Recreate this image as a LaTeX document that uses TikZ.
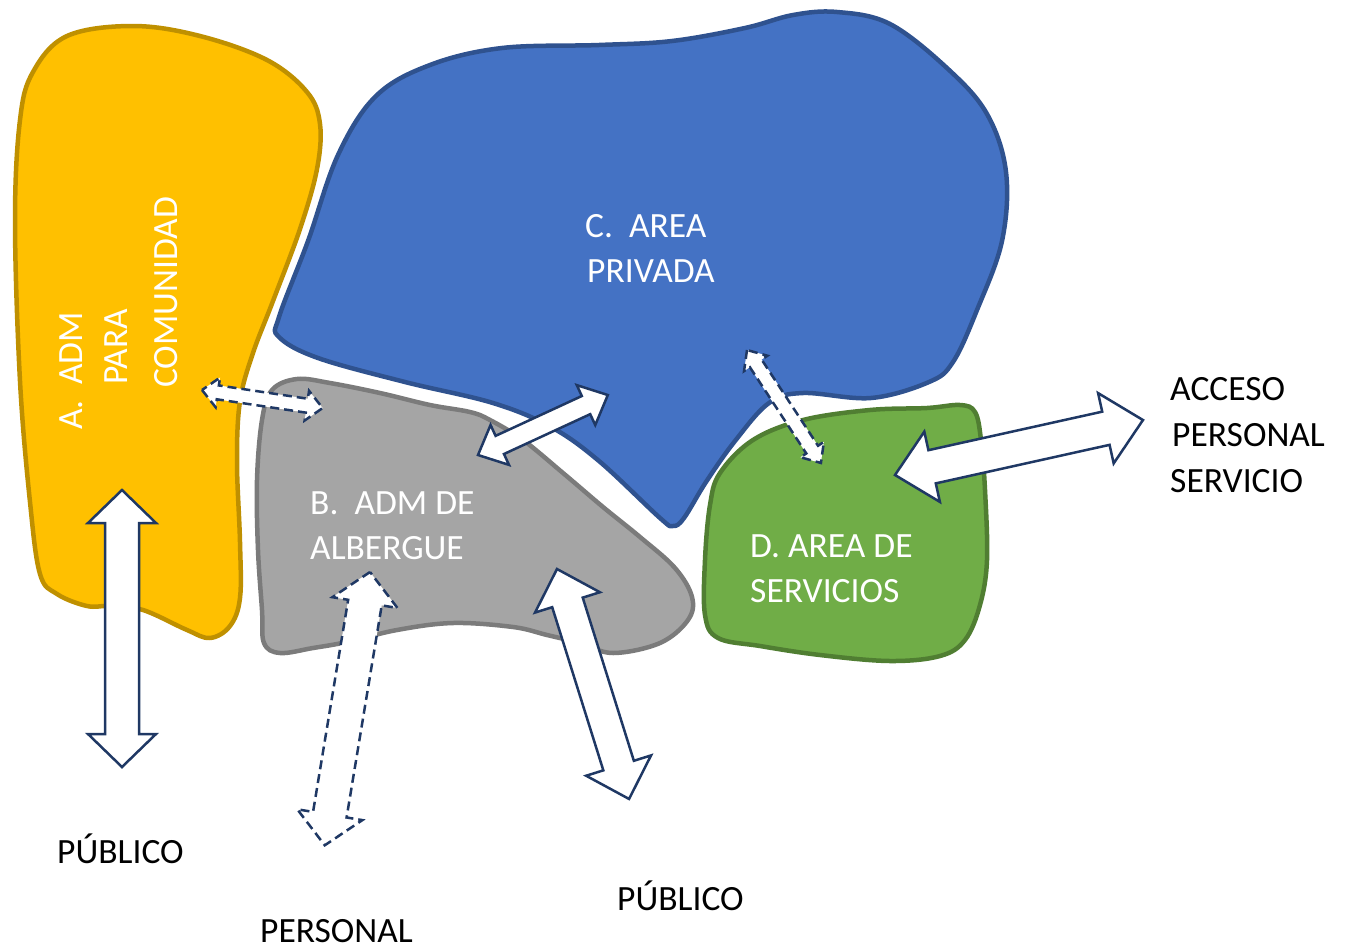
\documentclass[tikz,border=0pt]{standalone}
\usepackage{fontspec}
\setmainfont{Carlito}
\definecolor{yfill}{HTML}{FFC000}
\definecolor{ydraw}{HTML}{BF9000}
\definecolor{bfill}{HTML}{4472C4}
\definecolor{bdraw}{HTML}{2F528F}
\definecolor{gfill}{HTML}{A5A5A5}
\definecolor{gdraw}{HTML}{7B7B7B}
\definecolor{vfill}{HTML}{70AD47}
\definecolor{vdraw}{HTML}{507E32}
\definecolor{navy}{HTML}{1F3864}
\newcommand{\blockarr}[8]{%
  \begin{scope}[shift={(#1,#2)},rotate=#3]
    \draw[#8] (0,0) -- (#7,#6) -- (#7,#5) -- ({#4-#7},#5) -- ({#4-#7},#6) -- (#4,0)
      -- ({#4-#7},-#6) -- ({#4-#7},-#5) -- (#7,-#5) -- (#7,-#6) -- cycle;
  \end{scope}}
\begin{document}
\begin{tikzpicture}[x=1pt,y=-1pt,
  blob/.style={line width=4.5pt, line join=round},
  blobA/.style={blob, draw=ydraw, fill=yfill},
  blobB/.style={blob, draw=gdraw, fill=gfill},
  blobC/.style={blob, draw=bdraw, fill=bfill},
  blobD/.style={blob, draw=vdraw, fill=vfill},
  solidarr/.style={draw=navy, fill=white, line width=2.5pt, line join=miter},
  dasharr/.style={solidarr, dash pattern=on 9pt off 5pt},
  intxt/.style={text=white, font=\fontsize{35.5}{40}\selectfont, inner sep=0pt},
  outtxt/.style={text=black, font=\fontsize{35.5}{40}\selectfont, inner sep=0pt}]
\useasboundingbox (0,0) rectangle (1347,951);

% blobs
\draw[blobA] plot[smooth cycle, tension=0.6] coordinates {(133,26) (200,36) (267,60) (307,92) (320,124) (317,169) (300,229) (273,301) (253,353) (240,401) (237,462) (240,542) (240,598) (230,626) (210,638) (187,630) (143,610) (110,606) (87,606) (57,594) (40,574) (30,502) (20,381) (15,221) (20,120) (33,72) (67,36)};
\draw[blobC] plot[smooth cycle, tension=0.6] coordinates {(837,12) (890,24) (948,69) (987,114) (1006,172) (1002,241) (977,310) (953,362) (929,382) (871,398) (803,393) (769,403) (735,441) (706,482) (684,518) (673,526) (660,518) (599,461) (551,427) (493,403) (405,382) (318,358) (279,337) (279,317) (308,241) (338,155) (376,96) (430,65) (502,48) (599,45) (672,41) (745,28) (793,15)};
\draw[blobB] plot[smooth cycle, tension=0.6] coordinates {(297,379) (330,383) (380,393) (430,405) (470,412) (490,420) (523,440) (563,473) (603,507) (640,537) (675,568) (692,597) (688,620) (660,643) (613,653) (580,643) (547,635) (513,627) (453,623) (397,630) (347,642) (313,648) (280,653) (264,643) (262,610) (258,550) (257,480) (262,420) (272,390)};
\draw[blobD] plot[smooth cycle, tension=0.6] coordinates {(720,473) (753,440) (803,420) (870,410) (927,408) (960,405) (975,412) (981,440) (985,490) (987,560) (980,605) (965,640) (940,656) (890,661) (820,655) (760,646) (718,638) (705,615) (705,560) (710,505)};

% arrows
\blockarr{122}{490}{-90}{277}{17}{34}{33}{solidarr}
\blockarr{202}{390}{-8.5}{122}{7}{15}{16}{dasharr}
\blockarr{478}{455}{24.8}{143}{10}{22}{24}{solidarr}
\blockarr{747}{350}{-56.8}{135}{7}{14}{16}{dasharr}
\blockarr{895}{475}{12.5}{254}{17}{36}{38}{solidarr}
\blockarr{370}{572}{-99.4}{277}{17}{33}{31}{dasharr}
\blockarr{557}{569}{-72.6}{241}{16}{34}{35}{solidarr}

% labels in areas
\node[intxt, anchor=base west, rotate=90] (a1) at (82,430) {A.};
\node[intxt, anchor=base west, rotate=90] (a2) at (82,385) {ADM};
\node[intxt, anchor=base west, rotate=90] (a3) at (127,385) {PARA};
\node[intxt, anchor=base west, rotate=90] (a4) at (177,388) {COMUNIDAD};
\node[intxt, anchor=base west] (c1) at (585,237) {C.\ \ AREA};
\node[intxt, anchor=base west] (c2) at (587,282) {PRIVADA};
\node[intxt, anchor=base west] (b1) at (310,514) {B.\ \ ADM DE};
\node[intxt, anchor=base west] (b2) at (310,559) {ALBERGUE};
\node[intxt, anchor=base west] (d1) at (750,557) {D. AREA DE};
\node[intxt, anchor=base west] (d2) at (750,602) {SERVICIOS};

% outside labels
\node[outtxt, anchor=base west] (o1) at (1170,400) {ACCESO};
\node[outtxt, anchor=base west] (o2) at (1172,446) {PERSONAL};
\node[outtxt, anchor=base west] (o3) at (1170,492) {SERVICIO};
\node[outtxt, anchor=base west] (p1) at (57,863) {PÚBLICO};
\node[outtxt, anchor=base west] (p2) at (260,942) {PERSONAL};
\node[outtxt, anchor=base west] (p3) at (617,910) {PÚBLICO};
\end{tikzpicture}
\end{document}
